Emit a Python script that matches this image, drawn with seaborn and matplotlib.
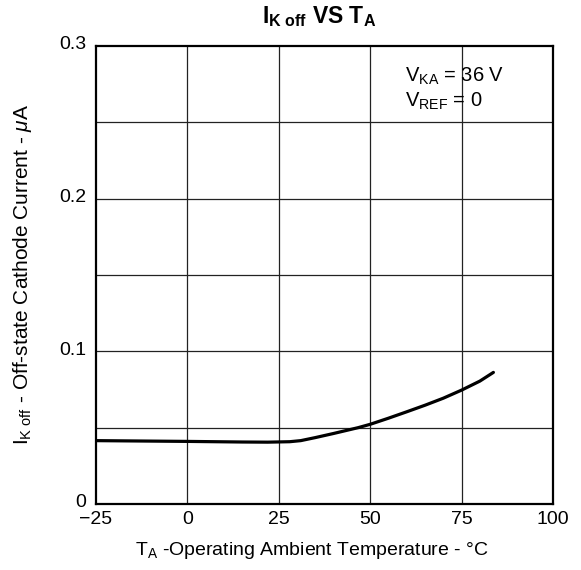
import matplotlib
matplotlib.use("Agg")
import matplotlib.pyplot as plt
from matplotlib.transforms import ScaledTranslation
import seaborn as sns
import pandas as pd

temps = [-25, 0, 15, 22, 28, 31, 35, 40, 46.7, 50, 55, 60, 65, 70, 75, 80, 83.7]
current = [0.0415, 0.041, 0.0406, 0.0405, 0.0408, 0.0415, 0.0435, 0.0462, 0.050, 0.0522, 0.0562, 0.0604, 0.0647, 0.0693, 0.0746, 0.0805, 0.0862]
x_ticks = [-25, 0, 25, 50, 75, 100]
x_labels = ["\u221225", "0", "25", "50", "75", "100"]
y_ticks = [0, 0.1, 0.2, 0.3]
y_labels = ["0", "0.1", "0.2", "0.3"]

sns.set_style("white")
plt.rcParams["font.family"] = ["Liberation Sans", "DejaVu Sans"]
plt.rcParams["mathtext.fontset"] = "custom"
plt.rcParams["mathtext.rm"] = "Liberation Sans"
plt.rcParams["mathtext.it"] = "Liberation Sans:italic"
plt.rcParams["mathtext.bf"] = "Liberation Sans:bold"
plt.rcParams["text.color"] = "black"
plt.rcParams["xtick.color"] = "black"
plt.rcParams["ytick.color"] = "black"

df = pd.DataFrame({"T": temps, "I": current})

fig = plt.figure(figsize=(5.81, 5.70), dpi=100)
ax = fig.add_axes([0.1652, 0.1158, 0.7866, 0.8035])

for gx in [0, 25, 50, 75]:
    ax.axvline(gx, color="#222222", lw=0.9, zorder=1)
for gy in [0.05, 0.1, 0.15, 0.2, 0.25]:
    ax.axhline(gy, color="#222222", lw=0.9, zorder=1)

sns.lineplot(data=df, x="T", y="I", ax=ax, color="black", lw=2.3, zorder=3)

ax.set_xlim(-25, 100)
ax.set_ylim(0, 0.3)
ax.set_xticks(x_ticks)
ax.set_xticklabels(x_labels, fontsize=14, color="black")
ax.set_yticks(y_ticks)
ax.set_yticklabels(y_labels, fontsize=14, color="black")
ax.tick_params(axis="x", length=0, pad=5)
ax.tick_params(axis="y", length=0, pad=7)
for lab in ax.get_yticklabels():
    lab.set_transform(lab.get_transform() + ScaledTranslation(0, 3 / 100, fig.dpi_scale_trans))
ax.set_xlabel("")
ax.set_ylabel("")
for s in ax.spines.values():
    s.set_color("black")
    s.set_linewidth(1.6)

fig.text(135 / 581, 1 - 555 / 570,
         "T$_\\mathregular{A}$ -Operating Ambient Temperature - \u00b0C",
         fontsize=14, ha="left", va="baseline")
fig.text(23 / 581, 1 - 274 / 570,
         "I$_\\mathregular{K\\ off}$ - Off-state Cathode Current - $\\mathit{\\mu}$A",
         fontsize=15, ha="center", va="center", rotation=90)
fig.text(319 / 581, 1 - 23 / 570,
         "$\\mathbf{I_{K\\ off}}$ VS $\\mathbf{T_{A}}$",
         fontsize=16.5, fontweight="bold", ha="center", va="baseline")

ax.text(59.5, 0.2763, "V$_\\mathregular{KA}$ = 36 V", fontsize=14.5, va="baseline")
ax.text(59.5, 0.2600, "V$_\\mathregular{REF}$ = 0", fontsize=14.5, va="baseline")

fig.savefig("out.png", dpi=100)
